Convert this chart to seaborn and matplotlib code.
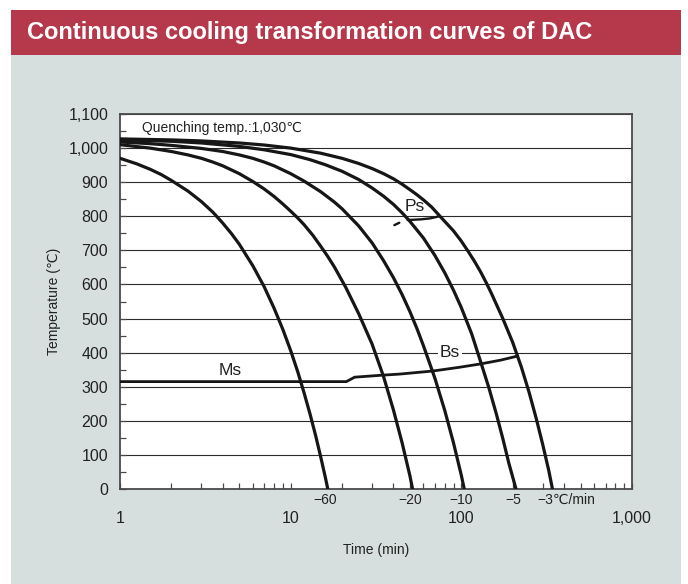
import pandas as pd
import matplotlib
matplotlib.use("Agg")
import matplotlib.pyplot as plt
import seaborn as sns
from matplotlib.patches import Rectangle
from matplotlib.ticker import FixedLocator, FixedFormatter, MultipleLocator, LogLocator, NullFormatter

# cooling curves (time in min, temperature in degC)
rates = ["-60", "-20", "-10", "-5", "-3"]
rate_labels = ["\u221260", "\u221220", "\u221210", "\u22125", "\u22123\u2103/min"]

t60 = [1, 1.25, 1.5, 1.75, 2, 2.5, 3, 3.5, 4, 4.5, 5, 6, 7, 8, 9, 10, 11, 12, 13, 14, 15, 16, 16.5]
T60 = [970, 954, 938, 922, 905, 874, 843, 812, 780, 749, 718, 655, 593, 530, 468, 406, 344, 281, 219, 157, 94, 32, 0]

t20 = [1, 1.5, 2, 2.5, 3, 3.5, 4, 5, 6, 7, 8, 9, 10, 11, 12, 13.5, 15, 16.5, 18, 21, 25, 30, 35, 40, 45, 50, 51.8]
T20 = [1010, 1000, 990, 980, 970, 959, 948, 925, 902, 880, 858, 836, 815, 795, 775, 744, 712, 682, 652, 592, 515, 425, 330, 232, 135, 38, 0]

t10 = [1, 1.5, 2, 3, 4, 5, 6, 7, 8, 10, 12, 15, 18, 20, 25, 30, 35, 40, 45, 50, 55, 60, 70, 80, 90, 100, 104]
T10 = [1018, 1013, 1008, 999, 990, 980, 970, 959, 948, 925, 903, 872, 842, 822, 772, 722, 670, 620, 570, 520, 470, 420, 325, 230, 135, 40, 0]

t5 = [1, 2, 3, 5, 7, 10, 13, 16, 20, 25, 30, 35, 40, 45, 50, 60, 70, 80, 90, 100, 115, 130, 145, 160, 175, 190, 200, 209]
T5 = [1024, 1020, 1015, 1005, 995, 981, 966, 951, 932, 908, 883, 859, 835, 810, 785, 736, 685, 634, 583, 532, 455, 372, 297, 222, 148, 75, 35, 0]

t3 = [1, 2, 3, 5, 7, 10, 15, 20, 25, 30, 35, 40, 45, 50, 55, 60, 67, 75, 82, 90, 100, 110, 120, 130, 140, 150,
      175, 200, 225, 250, 275, 300, 325, 342]
T3 = [1027, 1024, 1021, 1015, 1009, 1000, 985, 970, 955, 940, 925, 910, 894, 878, 863, 848, 827, 800, 779, 757,
      727, 696, 666, 636, 605, 574, 500, 430, 357, 282, 206, 130, 55, 0]

# Ms / Bs line
ms_t = [1, 21.2, 23.7, 34.7, 43.3, 67.9, 97.3, 130, 170, 214]
ms_T = [315, 315, 328, 334, 337, 346, 357, 367, 378, 390]

# Ps line and its short dashed start
ps_t = [48.5, 58, 66, 74.3]
ps_T = [789, 791, 794, 800]
ps_dash_t = [40.5, 43.3]
ps_dash_T = [774, 781]

ytick_vals = [0, 100, 200, 300, 400, 500, 600, 700, 800, 900, 1000, 1100]
ytick_labels = ["0", "100", "200", "300", "400", "500", "600", "700", "800", "900", "1,000", "1,100"]
xtick_vals = [1, 10, 100, 1000]
xtick_labels = ["1", "10", "100", "1,000"]

sns.set_theme(style="white")
plt.rcParams['font.family'] = ['Liberation Sans', 'DejaVu Sans']

RED = "#b5394b"
GRAY = "#d6dfdd"
INK = "#161616"
TXT = "#222222"

fig = plt.figure(figsize=(6.88, 5.84), dpi=100, facecolor="white")
W, H = 688.0, 584.0

# background panel and header band (behind the axes)
fig.patches.append(Rectangle((11 / W, 0), 670 / W, (H - 55) / H, transform=fig.transFigure,
                             facecolor=GRAY, edgecolor="none", zorder=-10))
fig.patches.append(Rectangle((11 / W, (H - 55) / H), 670 / W, 45 / H, transform=fig.transFigure,
                             facecolor=RED, edgecolor="none", zorder=-10))
fig.text(27 / W, (H - 33) / H, "Continuous cooling transformation curves of DAC",
         color="white", fontsize=17, fontweight="bold", va="center", ha="left")

ax = fig.add_axes([120 / W, (H - 489) / H, 512 / W, 375 / H])
ax.set_facecolor("white")

frames = []
for r, t, T in zip(rates, [t60, t20, t10, t5, t3], [T60, T20, T10, T5, T3]):
    frames.append(pd.DataFrame({"time": t, "temp": T, "rate": r}))
df = pd.concat(frames, ignore_index=True)

sns.lineplot(data=df, x="time", y="temp", units="rate", estimator=None, sort=False,
             color=INK, lw=2.3, ax=ax, zorder=3)
sns.lineplot(x=ms_t, y=ms_T, sort=False, color=INK, lw=2.0, ax=ax, zorder=3)
sns.lineplot(x=ps_t, y=ps_T, sort=False, color=INK, lw=1.7, ax=ax, zorder=3)
sns.lineplot(x=ps_dash_t, y=ps_dash_T, sort=False, color=INK, lw=1.7, ax=ax, zorder=3)

ax.set_xscale("log")
ax.set_xlim(1, 1000)
ax.set_ylim(0, 1100)

ax.xaxis.set_major_locator(FixedLocator(xtick_vals))
ax.xaxis.set_major_formatter(FixedFormatter(xtick_labels))
ax.xaxis.set_minor_locator(LogLocator(base=10, subs=range(2, 10)))
ax.xaxis.set_minor_formatter(NullFormatter())
ax.yaxis.set_major_locator(FixedLocator(ytick_vals))
ax.yaxis.set_major_formatter(FixedFormatter(ytick_labels))
ax.yaxis.set_minor_locator(MultipleLocator(50))

ax.yaxis.grid(True, which="major", color="#2a2a2a", lw=0.8)
ax.xaxis.grid(False)
ax.set_axisbelow(True)

for s in ax.spines.values():
    s.set_color("#4a4a4a")
    s.set_linewidth(1.3)
    s.set_visible(True)

ax.tick_params(axis="x", which="both", direction="in", length=4.5, width=0.9, color="#4a4a4a",
               bottom=True, top=False, pad=16, labelsize=11.5, labelcolor=TXT)
ax.tick_params(axis="y", which="both", direction="in", length=4, width=0.9, color="#4a4a4a",
               left=True, right=False, pad=8.5, labelsize=11.5, labelcolor=TXT)

ax.set_xlabel("Time (min)", fontsize=10, color=TXT, labelpad=12)
ax.set_ylabel("Temperature (\u2103)", fontsize=10, color=TXT, labelpad=5)

# cooling rate labels at curve ends
ends = [t60[-1], t20[-1], t10[-1], t5[-1], t3[-1]]
for i, (e, lab) in enumerate(zip(ends, rate_labels)):
    if i == len(ends) - 1:
        ax.annotate(lab, xy=(e, 0), xytext=(-11, -3), textcoords="offset points",
                    ha="left", va="top", fontsize=10, color=TXT, annotation_clip=False)
    else:
        ax.annotate(lab, xy=(e, 0), xytext=(-2, -3), textcoords="offset points",
                    ha="center", va="top", fontsize=10, color=TXT, annotation_clip=False)

ax.text(1.34, 1060, "Quenching temp.:1,030\u2103", fontsize=10, color=TXT, va="center", ha="left")
ax.text(4.4, 349, "Ms", fontsize=12.5, color=TXT, ha="center", va="center")
ax.text(86, 400, "Bs", fontsize=12.5, color=TXT, ha="center", va="center", zorder=2.5,
        bbox=dict(facecolor="white", edgecolor="none", pad=1.5))
ax.text(53.1, 830, "Ps", fontsize=12.5, color=TXT, ha="center", va="center")

fig.savefig("out.png", dpi=100, facecolor=fig.get_facecolor())
